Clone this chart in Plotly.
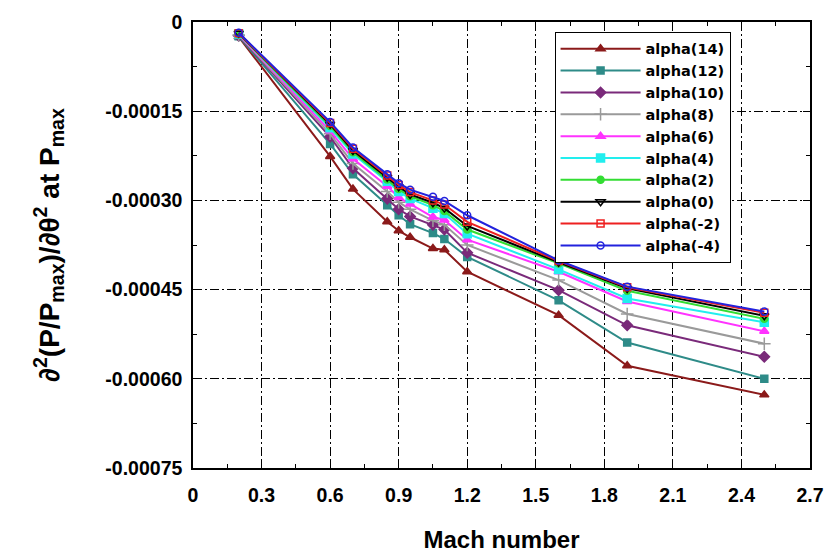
import plotly.graph_objects as go

# Mach numbers at which the curvature was evaluated
mach = [0.2, 0.6, 0.7, 0.85, 0.9, 0.95, 1.05, 1.1, 1.2, 1.6, 1.9, 2.5]

# Second derivative of P/Pmax w.r.t. theta at Pmax, one list per angle of attack
alpha_14 = [-2.5e-5, -0.000226, -0.000281, -0.000336, -0.000351, -0.000362,
            -0.000381, -0.000383, -0.000420, -0.000493, -0.000578, -0.000627]
alpha_12 = [-2.4e-5, -0.000205, -0.000256, -0.000308, -0.000325, -0.000340,
            -0.000355, -0.000365, -0.000395, -0.000468, -0.000539, -0.000600]
alpha_10 = [-2.3e-5, -0.000193, -0.000246, -0.000297, -0.000315, -0.000327,
            -0.000341, -0.000349, -0.000388, -0.000451, -0.000510, -0.000563]
alpha_8 = [-2.2e-5, -0.000188, -0.000238, -0.000285, -0.000303, -0.000315,
           -0.000334, -0.000341, -0.000375, -0.000434, -0.000491, -0.000541]
alpha_6 = [-2.1e-5, -0.000183, -0.000230, -0.000276, -0.000295, -0.000306,
           -0.000328, -0.000333, -0.000366, -0.000420, -0.000470, -0.000520]
alpha_4 = [-2.0e-5, -0.000178, -0.000222, -0.000268, -0.000285, -0.000297,
           -0.000313, -0.000322, -0.000356, -0.000416, -0.000465, -0.000505]
alpha_2 = [-2.0e-5, -0.000175, -0.000219, -0.000265, -0.000281, -0.000293,
           -0.000308, -0.000318, -0.000349, -0.000406, -0.000452, -0.000499]
alpha_0 = [-1.9e-5, -0.000172, -0.000216, -0.000261, -0.000277, -0.000290,
           -0.000304, -0.000313, -0.000343, -0.000404, -0.000448, -0.000494]
alpha_m2 = [-1.9e-5, -0.000170, -0.000213, -0.000258, -0.000274, -0.000286,
            -0.000300, -0.000307, -0.000336, -0.000402, -0.000446, -0.000489]
alpha_m4 = [-1.8e-5, -0.000168, -0.000211, -0.000256, -0.000271, -0.000282,
            -0.000294, -0.000301, -0.000325, -0.000401, -0.000445, -0.000487]

series_names = ["alpha(14)", "alpha(12)", "alpha(10)", "alpha(8)", "alpha(6)",
                "alpha(4)", "alpha(2)", "alpha(0)", "alpha(-2)", "alpha(-4)"]
series_values = [alpha_14, alpha_12, alpha_10, alpha_8, alpha_6,
                 alpha_4, alpha_2, alpha_0, alpha_m2, alpha_m4]

x_tickvals = [0, 0.3, 0.6, 0.9, 1.2, 1.5, 1.8, 2.1, 2.4, 2.7]
x_ticktext = ["0", "0.3", "0.6", "0.9", "1.2", "1.5", "1.8", "2.1", "2.4", "2.7"]
y_tickvals = [0, -0.00015, -0.00030, -0.00045, -0.00060, -0.00075]
y_ticktext = ["0", "-0.00015", "-0.00030", "-0.00045", "-0.00060", "-0.00075"]

# line colour, marker symbol, marker size for each series
styles = [
    ("#8B1A1A", "triangle-up", 8),
    ("#2E8B88", "square", 7),
    ("#7A2A7A", "diamond", 8),
    ("#9A9A9A", "cross-thin", 9),
    ("#FF33FF", "triangle-up", 8),
    ("#22EEEE", "square", 8),
    ("#33DD33", "circle", 7),
    ("#000000", "triangle-down-open", 8),
    ("#EE2020", "square-open", 7),
    ("#2222DD", "circle-open", 7),
]

fig = go.Figure()
for name, vals, (color, symbol, size) in zip(series_names, series_values, styles):
    fig.add_trace(go.Scatter(
        x=mach, y=vals, name=name, mode="lines+markers",
        line=dict(color=color, width=2),
        marker=dict(color=color, symbol=symbol, size=size,
                    line=dict(color=color, width=1.5)),
    ))

tick_font = dict(family="Liberation Sans", size=19.5, color="black", weight="bold")
title_font = dict(family="Liberation Sans", color="black", weight="bold")
grid_dash = "9px,3px,2px,3px"

fig.update_layout(
    width=830, height=555,
    margin=dict(l=193, r=20, t=22, b=87),
    paper_bgcolor="white", plot_bgcolor="white",
    showlegend=True,
    legend=dict(
        x=0.586, y=0.978, xanchor="left", yanchor="top",
        bgcolor="white", bordercolor="black", borderwidth=1,
        font=dict(family="DejaVu Sans", size=14.5, color="black", weight="bold"),
        itemwidth=80, tracegroupgap=0,
    ),
    xaxis=dict(
        range=[0, 2.7], tickmode="array", tickvals=x_tickvals, ticktext=x_ticktext,
        tickfont=tick_font, ticks="inside", ticklen=7, tickcolor="black",
        showline=True, linecolor="black", linewidth=1.5, mirror="allticks",
        showgrid=True, gridcolor="black", gridwidth=1.4, griddash=grid_dash,
        zeroline=False, ticklabelstandoff=9, automargin=False,
        minor=dict(tickmode="linear", tick0=0, dtick=0.15, ticks="inside",
                   ticklen=4, tickcolor="black", showgrid=False),
        title=dict(text="Mach number", standoff=26,
                   font=dict(title_font, size=24)),
    ),
    yaxis=dict(
        range=[-0.00075, 0], tickmode="array", tickvals=y_tickvals, ticktext=y_ticktext,
        tickfont=tick_font, ticks="inside", ticklen=7, tickcolor="black",
        showline=True, linecolor="black", linewidth=1.5, mirror="allticks",
        showgrid=True, gridcolor="black", gridwidth=1.4, griddash=grid_dash,
        zeroline=False, ticklabelstandoff=5, automargin=False,
        minor=dict(tickmode="linear", tick0=0, dtick=0.000075, ticks="inside",
                   ticklen=4, tickcolor="black", showgrid=False),
        title=dict(text="∂<sup>2</sup>(P/P<sub>max</sub>)/∂θ<sup>2</sup> at P<sub>max</sub>",
                   standoff=38,
                   font=dict(title_font, size=28)),
    ),
)

fig.write_html("out.html")
